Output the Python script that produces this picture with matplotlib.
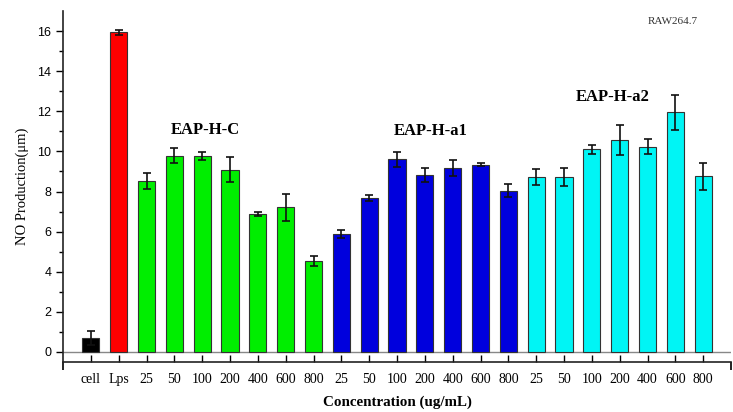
import matplotlib
matplotlib.use("Agg")
import matplotlib.pyplot as plt
import numpy as np

# NO production in RAW264.7 cells
tick_labels = ["cell", "Lps",
               "25", "50", "100", "200", "400", "600", "800",
               "25", "50", "100", "200", "400", "600", "800",
               "25", "50", "100", "200", "400", "600", "800"]
control_values = [0.70, 15.93]
control_errors = [0.35, 0.14]
eap_h_c_values = [8.52, 9.79, 9.77, 9.09, 6.86, 7.21, 4.54]
eap_h_c_errors = [0.40, 0.37, 0.19, 0.62, 0.10, 0.66, 0.25]
eap_h_a1_values = [5.87, 7.68, 9.60, 8.82, 9.19, 9.34, 8.04]
eap_h_a1_errors = [0.21, 0.17, 0.37, 0.35, 0.40, 0.09, 0.33]
eap_h_a2_values = [8.72, 8.72, 10.10, 10.57, 10.23, 11.95, 8.75]
eap_h_a2_errors = [0.40, 0.45, 0.21, 0.76, 0.37, 0.87, 0.68]

values = control_values + eap_h_c_values + eap_h_a1_values + eap_h_a2_values
errors = control_errors + eap_h_c_errors + eap_h_a1_errors + eap_h_a2_errors
colors = (["#000000", "#ff0000"] + ["#00ee00"] * 7 + ["#0000dd"] * 7
          + ["#00f5f5"] * 7)

serif = "Liberation Serif"
sans = "Liberation Sans"

fig = plt.figure(figsize=(7.33, 4.12), dpi=100)
ax = fig.add_axes([63 / 733, 50 / 412, 668 / 733, 351 / 412])

x = np.arange(len(values))
ax.bar(x, values, width=0.62, color=colors, edgecolor="#333333",
       linewidth=0.8, zorder=3)
ax.errorbar(x, values, yerr=errors, fmt="none", ecolor="#111111",
            elinewidth=1.2, capsize=3, capthick=1.2, zorder=4)

ax.axhline(0, color="#888888", linewidth=1.0, zorder=2)

ax.set_xlim(-1, 23)
ax.set_ylim(-0.5, 17)

for s in ["top", "right"]:
    ax.spines[s].set_visible(False)
for s in ["left", "bottom"]:
    ax.spines[s].set_linewidth(1.2)
    ax.spines[s].set_color("#222222")

ax.set_yticks(np.arange(0, 17, 2))
ax.set_yticks(np.arange(1, 17, 2), minor=True)
ax.tick_params(axis="y", which="major", direction="out", length=5,
               width=1.0, labelsize=9)
ax.tick_params(axis="y", which="minor", direction="out", length=3, width=1.0)
for lab in ax.get_yticklabels():
    lab.set_fontfamily(sans)

ax.set_xticks(x)
ax.set_xticklabels(tick_labels, fontfamily=serif, fontsize=10)
ax.set_xticks([-1, 23], minor=True)
ax.tick_params(axis="x", which="major", direction="in", length=5, width=1.0,
               pad=8)
ax.tick_params(axis="x", which="minor", direction="out", length=6, width=1.2)

ax.set_ylabel("NO Production(μm)", fontfamily=serif, fontsize=10.5,
              labelpad=6)
ax.set_xlabel("Concentration (ug/mL)", fontfamily=serif, fontsize=10.8,
              fontweight="bold", labelpad=7)

ax.text(4.1, 11.05, "EAP-H-C", fontfamily=serif, fontsize=12,
        fontweight="bold", ha="center", va="center")
ax.text(12.2, 11.0, "EAP-H-a1", fontfamily=serif, fontsize=12,
        fontweight="bold", ha="center", va="center")
ax.text(18.75, 12.7, "EAP-H-a2", fontfamily=serif, fontsize=12,
        fontweight="bold", ha="center", va="center")
ax.text(20.9, 16.5, "RAW264.7", fontfamily=serif, fontsize=8,
        ha="center", va="center", color="#333333")

fig.savefig("out.png", dpi=100)
